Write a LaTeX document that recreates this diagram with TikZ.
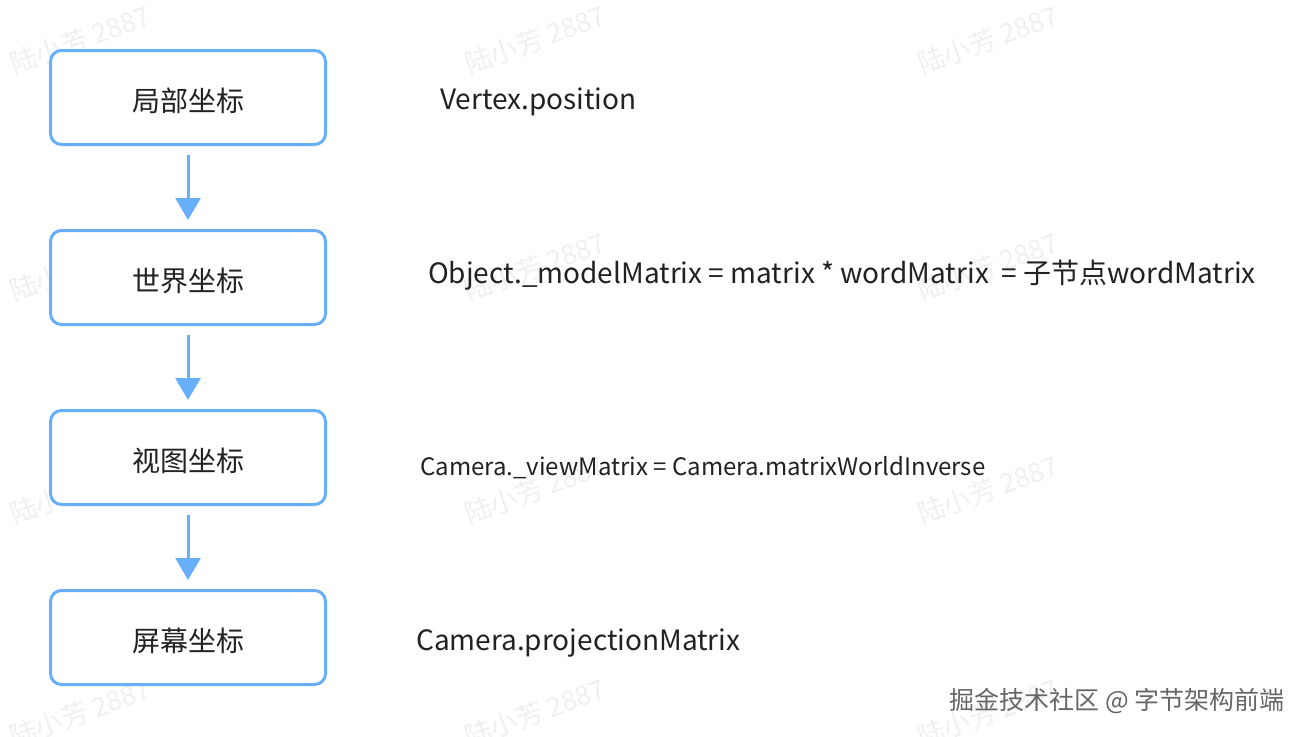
\documentclass[tikz,border=0pt]{standalone}
\usepackage{fontspec}
\setmainfont{Noto Sans CJK SC}
\usetikzlibrary{positioning}
\usetikzlibrary{arrows.meta}
\definecolor{boxblue}{HTML}{68AFF9}
\definecolor{inkgray}{HTML}{222222}
\tikzset{x=1pt, y=-1pt, % one unit is one pixel of the reference
coordbox/.style={ % Sets the properties for each coordinate space
draw=boxblue,
line width=3pt,
rounded corners=11pt,
fill=white,
minimum width=275pt,
minimum height=94pt,
text height=27pt, text depth=0pt,
text=inkgray,
font=\fontsize{28}{32}\selectfont},
formula/.style={ % Text beside each box
anchor=west,
inner sep=0pt,
text=inkgray,
font=\fontsize{28}{32}\selectfont},
flow/.style={ % Arrows between the boxes
draw=boxblue,
line width=3pt,
-{Triangle[width=25pt,length=22pt]},
shorten <=9pt,
shorten >=9pt},
watermark/.style={
rotate=20,
text=black!6,
font=\fontsize{27}{30}\selectfont}}

\begin{document}
\begin{tikzpicture}
\useasboundingbox[fill=white] (0,0) rectangle (1306,736);
% faint watermarks
\foreach \wy in {40,267,490,713}
\foreach \wx in {80,535,988}
\node[watermark] at (\wx,\wy) {陆小芳 2887};
% the four coordinate spaces
\node[coordbox] (local) at (188,97.5) {局部坐标};
\node[coordbox, below=83pt of local] (world) {世界坐标};
\node[coordbox, below=83pt of world] (view) {视图坐标};
\node[coordbox, below=83pt of view] (screen) {屏幕坐标};
\draw[flow] (local) -- (world);
\draw[flow] (world) -- (view);
\draw[flow] (view) -- (screen);
% matrices
\node[formula] (vertexpos) at (440,102) {Vertex.position};
\node[formula] (modelmat) at (428,275) {Object.\_modelMatrix = matrix * wordMatrix \ = 子节点wordMatrix};
\node[formula, font=\fontsize{24}{28}\selectfont] (viewmat) at (420,468) {Camera.\_viewMatrix = Camera.matrixWorldInverse};
\node[formula] (projmat) at (416,643) {Camera.projectionMatrix};
\node[anchor=east, inner sep=0pt, text=black!60, font=\fontsize{25}{28}\selectfont] (credit) at (1285,701) {掘金技术社区 @ 字节架构前端};
\end{tikzpicture}
\end{document}
